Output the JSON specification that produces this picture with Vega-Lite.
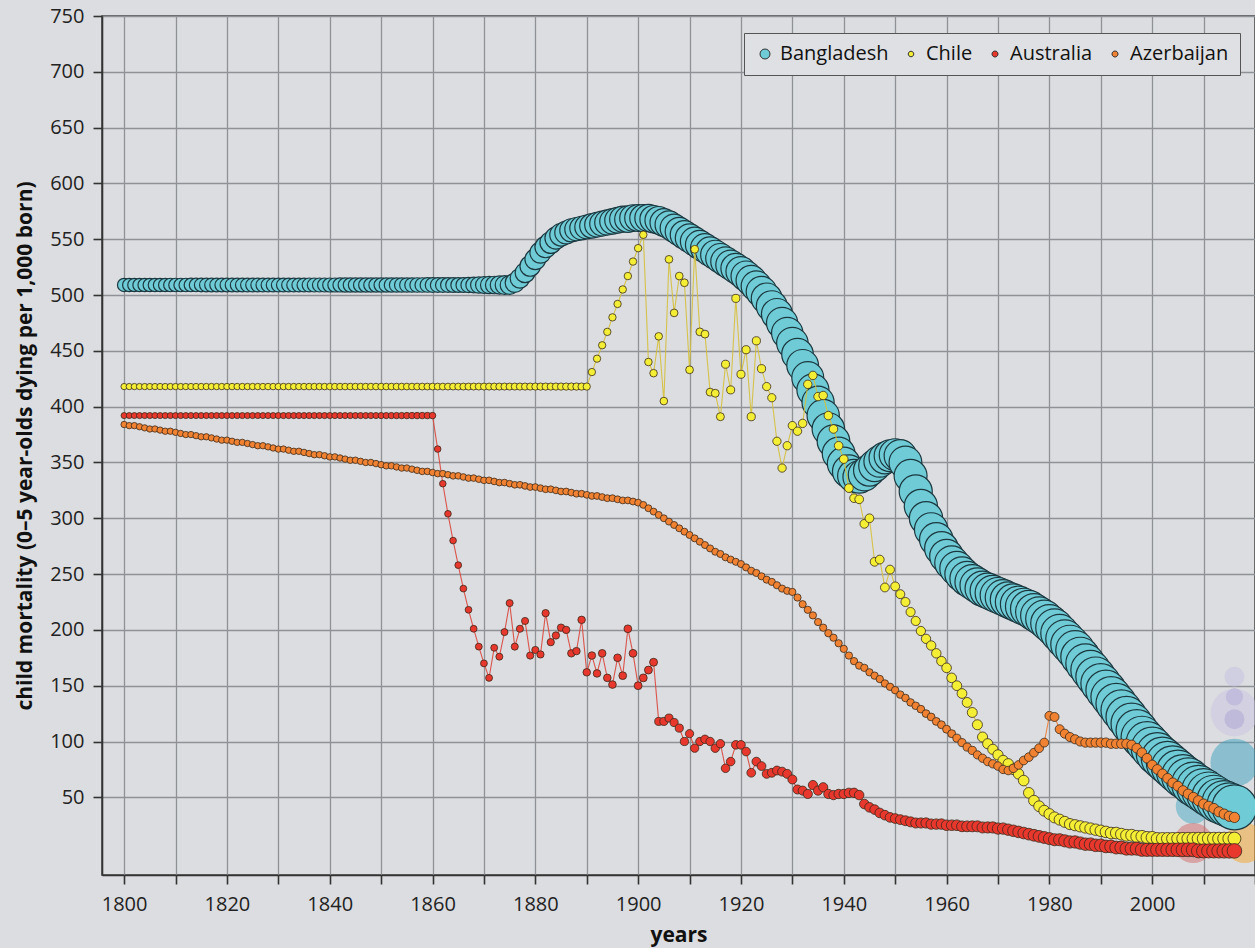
{
"$schema":"https://vega.github.io/schema/vega-lite/v6.json",
"width":1153,"height":859,
"autosize":{"type":"none"},
"padding":{"left":102,"top":16,"right":0,"bottom":73},
"background":"#dcdde0",
"config":{
 "view":{"stroke":"#3a3a3a","strokeWidth":1.5,"fill":"#dcdde0"},
 "axis":{"gridColor":"#8e9296","gridWidth":1.3,"gridOpacity":1,"domainColor":"#333","domainWidth":1.6,"tickColor":"#333","tickWidth":1.6,"tickSize":9,"labelFont":"Open Sans","labelFontSize":20,"labelColor":"#222","titleFont":"Open Sans","titleFontWeight":"bold","titleFontSize":21,"titleColor":"#111","labelFlush":false}
},
"datasets":{
"ghost":[
{"k":"g1","y":2016,"v":158,"p":16},
{"k":"g2","y":2016,"v":140,"p":12},
{"k":"g3","y":2016,"v":120,"p":16},
{"k":"g4","y":2016,"v":126,"p":90},
{"k":"g5","y":2016,"v":81,"p":92},
{"k":"g6","y":2008,"v":42,"p":49},
{"k":"g7","y":2008,"v":9,"p":64},
{"k":"g8","y":2018,"v":9,"p":64}
],
"main":[
{"c":"Bangladesh","y":1800,"v":509,"p":19.2},{"c":"Bangladesh","y":1801,"v":509,"p":19.3},{"c":"Bangladesh","y":1802,"v":509,"p":19.3},{"c":"Bangladesh","y":1803,"v":509,"p":19.4},{"c":"Bangladesh","y":1804,"v":509,"p":19.5},{"c":"Bangladesh","y":1805,"v":509,"p":19.5},{"c":"Bangladesh","y":1806,"v":509,"p":19.6},{"c":"Bangladesh","y":1807,"v":509,"p":19.7},{"c":"Bangladesh","y":1808,"v":509,"p":19.7},{"c":"Bangladesh","y":1809,"v":509,"p":19.8},
{"c":"Bangladesh","y":1810,"v":509,"p":19.9},{"c":"Bangladesh","y":1811,"v":509,"p":19.9},{"c":"Bangladesh","y":1812,"v":509,"p":20.0},{"c":"Bangladesh","y":1813,"v":509,"p":20.1},{"c":"Bangladesh","y":1814,"v":509,"p":20.1},{"c":"Bangladesh","y":1815,"v":509,"p":20.2},{"c":"Bangladesh","y":1816,"v":509,"p":20.3},{"c":"Bangladesh","y":1817,"v":509,"p":20.3},{"c":"Bangladesh","y":1818,"v":509,"p":20.4},{"c":"Bangladesh","y":1819,"v":509,"p":20.5},
{"c":"Bangladesh","y":1820,"v":509,"p":20.5},{"c":"Bangladesh","y":1821,"v":509,"p":20.6},{"c":"Bangladesh","y":1822,"v":509,"p":20.7},{"c":"Bangladesh","y":1823,"v":509,"p":20.7},{"c":"Bangladesh","y":1824,"v":509,"p":20.8},{"c":"Bangladesh","y":1825,"v":509,"p":20.9},{"c":"Bangladesh","y":1826,"v":509,"p":20.9},{"c":"Bangladesh","y":1827,"v":509,"p":21.0},{"c":"Bangladesh","y":1828,"v":509,"p":21.1},{"c":"Bangladesh","y":1829,"v":509,"p":21.1},
{"c":"Bangladesh","y":1830,"v":509,"p":21.2},{"c":"Bangladesh","y":1831,"v":509,"p":21.3},{"c":"Bangladesh","y":1832,"v":509,"p":21.3},{"c":"Bangladesh","y":1833,"v":509,"p":21.4},{"c":"Bangladesh","y":1834,"v":509,"p":21.5},{"c":"Bangladesh","y":1835,"v":509,"p":21.5},{"c":"Bangladesh","y":1836,"v":509,"p":21.6},{"c":"Bangladesh","y":1837,"v":509,"p":21.7},{"c":"Bangladesh","y":1838,"v":509,"p":21.7},{"c":"Bangladesh","y":1839,"v":509,"p":21.8},
{"c":"Bangladesh","y":1840,"v":509,"p":21.9},{"c":"Bangladesh","y":1841,"v":509,"p":21.9},{"c":"Bangladesh","y":1842,"v":509,"p":22.0},{"c":"Bangladesh","y":1843,"v":509,"p":22.1},{"c":"Bangladesh","y":1844,"v":509,"p":22.1},{"c":"Bangladesh","y":1845,"v":509,"p":22.2},{"c":"Bangladesh","y":1846,"v":509,"p":22.3},{"c":"Bangladesh","y":1847,"v":509,"p":22.3},{"c":"Bangladesh","y":1848,"v":509,"p":22.4},{"c":"Bangladesh","y":1849,"v":509,"p":22.5},
{"c":"Bangladesh","y":1850,"v":509,"p":22.5},{"c":"Bangladesh","y":1851,"v":509,"p":22.7},{"c":"Bangladesh","y":1852,"v":509,"p":22.8},{"c":"Bangladesh","y":1853,"v":509,"p":23.0},{"c":"Bangladesh","y":1854,"v":509,"p":23.1},{"c":"Bangladesh","y":1855,"v":509,"p":23.3},{"c":"Bangladesh","y":1856,"v":509,"p":23.4},{"c":"Bangladesh","y":1857,"v":509,"p":23.6},{"c":"Bangladesh","y":1858,"v":509,"p":23.7},{"c":"Bangladesh","y":1859,"v":509,"p":23.9},
{"c":"Bangladesh","y":1860,"v":509,"p":24.0},{"c":"Bangladesh","y":1861,"v":509,"p":24.2},{"c":"Bangladesh","y":1862,"v":509,"p":24.3},{"c":"Bangladesh","y":1863,"v":509,"p":24.5},{"c":"Bangladesh","y":1864,"v":509,"p":24.6},{"c":"Bangladesh","y":1865,"v":509,"p":24.8},{"c":"Bangladesh","y":1866,"v":509,"p":24.9},{"c":"Bangladesh","y":1867,"v":509,"p":25.1},{"c":"Bangladesh","y":1868,"v":509,"p":25.2},{"c":"Bangladesh","y":1869,"v":509,"p":25.4},
{"c":"Bangladesh","y":1870,"v":509,"p":25.5},{"c":"Bangladesh","y":1871,"v":509,"p":25.6},{"c":"Bangladesh","y":1872,"v":509,"p":25.7},{"c":"Bangladesh","y":1873,"v":509,"p":25.9},{"c":"Bangladesh","y":1874,"v":509,"p":26.0},{"c":"Bangladesh","y":1875,"v":509,"p":26.1},{"c":"Bangladesh","y":1876,"v":511,"p":26.2},{"c":"Bangladesh","y":1877,"v":515,"p":26.3},{"c":"Bangladesh","y":1878,"v":520,"p":26.4},{"c":"Bangladesh","y":1879,"v":526,"p":26.6},
{"c":"Bangladesh","y":1880,"v":532,"p":26.7},{"c":"Bangladesh","y":1881,"v":538,"p":26.8},{"c":"Bangladesh","y":1882,"v":543,"p":26.9},{"c":"Bangladesh","y":1883,"v":547,"p":27.0},{"c":"Bangladesh","y":1884,"v":551,"p":27.1},{"c":"Bangladesh","y":1885,"v":554,"p":27.3},{"c":"Bangladesh","y":1886,"v":556,"p":27.4},{"c":"Bangladesh","y":1887,"v":558,"p":27.5},{"c":"Bangladesh","y":1888,"v":559,"p":27.6},{"c":"Bangladesh","y":1889,"v":560,"p":27.7},
{"c":"Bangladesh","y":1890,"v":561,"p":27.8},{"c":"Bangladesh","y":1891,"v":562,"p":28.0},{"c":"Bangladesh","y":1892,"v":563,"p":28.1},{"c":"Bangladesh","y":1893,"v":564,"p":28.2},{"c":"Bangladesh","y":1894,"v":565,"p":28.3},{"c":"Bangladesh","y":1895,"v":566,"p":28.4},{"c":"Bangladesh","y":1896,"v":567,"p":28.5},{"c":"Bangladesh","y":1897,"v":568,"p":28.7},{"c":"Bangladesh","y":1898,"v":568,"p":28.8},{"c":"Bangladesh","y":1899,"v":569,"p":28.9},
{"c":"Bangladesh","y":1900,"v":569,"p":29.0},{"c":"Bangladesh","y":1901,"v":569,"p":29.3},{"c":"Bangladesh","y":1902,"v":569,"p":29.6},{"c":"Bangladesh","y":1903,"v":568,"p":29.8},{"c":"Bangladesh","y":1904,"v":567,"p":30.1},{"c":"Bangladesh","y":1905,"v":565,"p":30.4},{"c":"Bangladesh","y":1906,"v":563,"p":30.7},{"c":"Bangladesh","y":1907,"v":560,"p":30.9},{"c":"Bangladesh","y":1908,"v":557,"p":31.2},{"c":"Bangladesh","y":1909,"v":554,"p":31.5},
{"c":"Bangladesh","y":1910,"v":551,"p":31.8},{"c":"Bangladesh","y":1911,"v":548,"p":32.0},{"c":"Bangladesh","y":1912,"v":545,"p":32.3},{"c":"Bangladesh","y":1913,"v":542,"p":32.6},{"c":"Bangladesh","y":1914,"v":539,"p":32.9},{"c":"Bangladesh","y":1915,"v":536,"p":33.1},{"c":"Bangladesh","y":1916,"v":533,"p":33.4},{"c":"Bangladesh","y":1917,"v":530,"p":33.7},{"c":"Bangladesh","y":1918,"v":527,"p":34.0},{"c":"Bangladesh","y":1919,"v":524,"p":34.2},
{"c":"Bangladesh","y":1920,"v":521,"p":34.5},{"c":"Bangladesh","y":1921,"v":517,"p":34.8},{"c":"Bangladesh","y":1922,"v":513,"p":35.1},{"c":"Bangladesh","y":1923,"v":508,"p":35.3},{"c":"Bangladesh","y":1924,"v":503,"p":35.6},{"c":"Bangladesh","y":1925,"v":497,"p":35.9},{"c":"Bangladesh","y":1926,"v":490,"p":36.2},{"c":"Bangladesh","y":1927,"v":483,"p":36.4},{"c":"Bangladesh","y":1928,"v":475,"p":36.7},{"c":"Bangladesh","y":1929,"v":466,"p":37.0},
{"c":"Bangladesh","y":1930,"v":457,"p":37.3},{"c":"Bangladesh","y":1931,"v":447,"p":37.5},{"c":"Bangladesh","y":1932,"v":437,"p":37.8},{"c":"Bangladesh","y":1933,"v":426,"p":38.1},{"c":"Bangladesh","y":1934,"v":415,"p":38.4},{"c":"Bangladesh","y":1935,"v":404,"p":38.6},{"c":"Bangladesh","y":1936,"v":392,"p":38.9},{"c":"Bangladesh","y":1937,"v":380,"p":39.2},{"c":"Bangladesh","y":1938,"v":369,"p":39.5},{"c":"Bangladesh","y":1939,"v":358,"p":39.7},
{"c":"Bangladesh","y":1940,"v":349,"p":40.0},{"c":"Bangladesh","y":1941,"v":342,"p":40.1},{"c":"Bangladesh","y":1942,"v":338,"p":40.0},{"c":"Bangladesh","y":1943,"v":337,"p":39.2},{"c":"Bangladesh","y":1944,"v":339,"p":38.5},{"c":"Bangladesh","y":1945,"v":343,"p":38.0},{"c":"Bangladesh","y":1946,"v":347,"p":37.8},{"c":"Bangladesh","y":1947,"v":351,"p":37.7},{"c":"Bangladesh","y":1948,"v":354,"p":37.7},{"c":"Bangladesh","y":1949,"v":356,"p":37.8},
{"c":"Bangladesh","y":1950,"v":357,"p":38.0},{"c":"Bangladesh","y":1951,"v":356,"p":38.9},{"c":"Bangladesh","y":1952,"v":350,"p":39.8},{"c":"Bangladesh","y":1953,"v":338,"p":40.8},{"c":"Bangladesh","y":1954,"v":324,"p":41.7},{"c":"Bangladesh","y":1955,"v":311,"p":42.7},{"c":"Bangladesh","y":1956,"v":300,"p":43.7},{"c":"Bangladesh","y":1957,"v":290,"p":44.7},{"c":"Bangladesh","y":1958,"v":281,"p":45.8},{"c":"Bangladesh","y":1959,"v":273,"p":46.9},
{"c":"Bangladesh","y":1960,"v":266,"p":48.0},{"c":"Bangladesh","y":1961,"v":260,"p":49.5},{"c":"Bangladesh","y":1962,"v":255,"p":51.0},{"c":"Bangladesh","y":1963,"v":250,"p":52.6},{"c":"Bangladesh","y":1964,"v":246,"p":54.2},{"c":"Bangladesh","y":1965,"v":243,"p":55.9},{"c":"Bangladesh","y":1966,"v":240,"p":57.6},{"c":"Bangladesh","y":1967,"v":237,"p":59.4},{"c":"Bangladesh","y":1968,"v":235,"p":61.2},{"c":"Bangladesh","y":1969,"v":233,"p":63.1},
{"c":"Bangladesh","y":1970,"v":231,"p":65.0},{"c":"Bangladesh","y":1971,"v":229,"p":66.5},{"c":"Bangladesh","y":1972,"v":227,"p":68.0},{"c":"Bangladesh","y":1973,"v":225,"p":69.6},{"c":"Bangladesh","y":1974,"v":223,"p":71.2},{"c":"Bangladesh","y":1975,"v":221,"p":72.8},{"c":"Bangladesh","y":1976,"v":219,"p":74.5},{"c":"Bangladesh","y":1977,"v":216,"p":76.1},{"c":"Bangladesh","y":1978,"v":213,"p":77.7},{"c":"Bangladesh","y":1979,"v":210,"p":79.4},
{"c":"Bangladesh","y":1980,"v":206,"p":81.0},{"c":"Bangladesh","y":1981,"v":202,"p":83.5},{"c":"Bangladesh","y":1982,"v":197,"p":86.0},{"c":"Bangladesh","y":1983,"v":192,"p":88.6},{"c":"Bangladesh","y":1984,"v":187,"p":91.2},{"c":"Bangladesh","y":1985,"v":182,"p":93.8},{"c":"Bangladesh","y":1986,"v":176,"p":96.5},{"c":"Bangladesh","y":1987,"v":170,"p":99.2},{"c":"Bangladesh","y":1988,"v":164,"p":101.8},{"c":"Bangladesh","y":1989,"v":158,"p":104.4},
{"c":"Bangladesh","y":1990,"v":152,"p":107.0},{"c":"Bangladesh","y":1991,"v":146,"p":109.4},{"c":"Bangladesh","y":1992,"v":140,"p":111.8},{"c":"Bangladesh","y":1993,"v":134,"p":114.2},{"c":"Bangladesh","y":1994,"v":128,"p":116.6},{"c":"Bangladesh","y":1995,"v":122,"p":119.0},{"c":"Bangladesh","y":1996,"v":116,"p":121.4},{"c":"Bangladesh","y":1997,"v":110,"p":123.8},{"c":"Bangladesh","y":1998,"v":104,"p":126.2},{"c":"Bangladesh","y":1999,"v":99,"p":128.6},
{"c":"Bangladesh","y":2000,"v":94,"p":131.0},{"c":"Bangladesh","y":2001,"v":89,"p":133.0},{"c":"Bangladesh","y":2002,"v":85,"p":135.0},{"c":"Bangladesh","y":2003,"v":81,"p":137.0},{"c":"Bangladesh","y":2004,"v":77,"p":139.0},{"c":"Bangladesh","y":2005,"v":73,"p":141.0},{"c":"Bangladesh","y":2006,"v":69,"p":143.0},{"c":"Bangladesh","y":2007,"v":66,"p":145.0},{"c":"Bangladesh","y":2008,"v":62,"p":147.0},{"c":"Bangladesh","y":2009,"v":59,"p":149.0},
{"c":"Bangladesh","y":2010,"v":56,"p":151.0},{"c":"Bangladesh","y":2011,"v":53,"p":153.0},{"c":"Bangladesh","y":2012,"v":50,"p":155.0},{"c":"Bangladesh","y":2013,"v":47,"p":157.0},{"c":"Bangladesh","y":2014,"v":45,"p":159.0},{"c":"Bangladesh","y":2015,"v":43,"p":161.0},{"c":"Bangladesh","y":2016,"v":41,"p":163.0},

{"c":"Chile","y":1800,"v":418,"p":0.8},{"c":"Chile","y":1801,"v":418,"p":0.8},{"c":"Chile","y":1802,"v":418,"p":0.8},{"c":"Chile","y":1803,"v":418,"p":0.8},{"c":"Chile","y":1804,"v":418,"p":0.8},{"c":"Chile","y":1805,"v":418,"p":0.8},{"c":"Chile","y":1806,"v":418,"p":0.8},{"c":"Chile","y":1807,"v":418,"p":0.9},{"c":"Chile","y":1808,"v":418,"p":0.9},{"c":"Chile","y":1809,"v":418,"p":0.9},
{"c":"Chile","y":1810,"v":418,"p":0.9},{"c":"Chile","y":1811,"v":418,"p":0.9},{"c":"Chile","y":1812,"v":418,"p":0.9},{"c":"Chile","y":1813,"v":418,"p":0.9},{"c":"Chile","y":1814,"v":418,"p":1.0},{"c":"Chile","y":1815,"v":418,"p":1.0},{"c":"Chile","y":1816,"v":418,"p":1.0},{"c":"Chile","y":1817,"v":418,"p":1.0},{"c":"Chile","y":1818,"v":418,"p":1.0},{"c":"Chile","y":1819,"v":418,"p":1.0},
{"c":"Chile","y":1820,"v":418,"p":1.0},{"c":"Chile","y":1821,"v":418,"p":1.1},{"c":"Chile","y":1822,"v":418,"p":1.1},{"c":"Chile","y":1823,"v":418,"p":1.1},{"c":"Chile","y":1824,"v":418,"p":1.1},{"c":"Chile","y":1825,"v":418,"p":1.1},{"c":"Chile","y":1826,"v":418,"p":1.1},{"c":"Chile","y":1827,"v":418,"p":1.1},{"c":"Chile","y":1828,"v":418,"p":1.2},{"c":"Chile","y":1829,"v":418,"p":1.2},
{"c":"Chile","y":1830,"v":418,"p":1.2},{"c":"Chile","y":1831,"v":418,"p":1.2},{"c":"Chile","y":1832,"v":418,"p":1.2},{"c":"Chile","y":1833,"v":418,"p":1.2},{"c":"Chile","y":1834,"v":418,"p":1.2},{"c":"Chile","y":1835,"v":418,"p":1.3},{"c":"Chile","y":1836,"v":418,"p":1.3},{"c":"Chile","y":1837,"v":418,"p":1.3},{"c":"Chile","y":1838,"v":418,"p":1.3},{"c":"Chile","y":1839,"v":418,"p":1.3},
{"c":"Chile","y":1840,"v":418,"p":1.3},{"c":"Chile","y":1841,"v":418,"p":1.3},{"c":"Chile","y":1842,"v":418,"p":1.4},{"c":"Chile","y":1843,"v":418,"p":1.4},{"c":"Chile","y":1844,"v":418,"p":1.4},{"c":"Chile","y":1845,"v":418,"p":1.4},{"c":"Chile","y":1846,"v":418,"p":1.4},{"c":"Chile","y":1847,"v":418,"p":1.4},{"c":"Chile","y":1848,"v":418,"p":1.4},{"c":"Chile","y":1849,"v":418,"p":1.5},
{"c":"Chile","y":1850,"v":418,"p":1.5},{"c":"Chile","y":1851,"v":418,"p":1.5},{"c":"Chile","y":1852,"v":418,"p":1.5},{"c":"Chile","y":1853,"v":418,"p":1.5},{"c":"Chile","y":1854,"v":418,"p":1.6},{"c":"Chile","y":1855,"v":418,"p":1.6},{"c":"Chile","y":1856,"v":418,"p":1.6},{"c":"Chile","y":1857,"v":418,"p":1.7},{"c":"Chile","y":1858,"v":418,"p":1.7},{"c":"Chile","y":1859,"v":418,"p":1.7},
{"c":"Chile","y":1860,"v":418,"p":1.7},{"c":"Chile","y":1861,"v":418,"p":1.8},{"c":"Chile","y":1862,"v":418,"p":1.8},{"c":"Chile","y":1863,"v":418,"p":1.8},{"c":"Chile","y":1864,"v":418,"p":1.9},{"c":"Chile","y":1865,"v":418,"p":1.9},{"c":"Chile","y":1866,"v":418,"p":1.9},{"c":"Chile","y":1867,"v":418,"p":2.0},{"c":"Chile","y":1868,"v":418,"p":2.0},{"c":"Chile","y":1869,"v":418,"p":2.0},
{"c":"Chile","y":1870,"v":418,"p":2.0},{"c":"Chile","y":1871,"v":418,"p":2.1},{"c":"Chile","y":1872,"v":418,"p":2.1},{"c":"Chile","y":1873,"v":418,"p":2.1},{"c":"Chile","y":1874,"v":418,"p":2.2},{"c":"Chile","y":1875,"v":418,"p":2.2},{"c":"Chile","y":1876,"v":418,"p":2.2},{"c":"Chile","y":1877,"v":418,"p":2.3},{"c":"Chile","y":1878,"v":418,"p":2.3},{"c":"Chile","y":1879,"v":418,"p":2.3},
{"c":"Chile","y":1880,"v":418,"p":2.3},{"c":"Chile","y":1881,"v":418,"p":2.4},{"c":"Chile","y":1882,"v":418,"p":2.4},{"c":"Chile","y":1883,"v":418,"p":2.4},{"c":"Chile","y":1884,"v":418,"p":2.5},{"c":"Chile","y":1885,"v":418,"p":2.5},{"c":"Chile","y":1886,"v":418,"p":2.5},{"c":"Chile","y":1887,"v":418,"p":2.6},{"c":"Chile","y":1888,"v":418,"p":2.6},{"c":"Chile","y":1889,"v":418,"p":2.6},
{"c":"Chile","y":1890,"v":418,"p":2.6},{"c":"Chile","y":1891,"v":431,"p":2.7},{"c":"Chile","y":1892,"v":443,"p":2.7},{"c":"Chile","y":1893,"v":455,"p":2.7},{"c":"Chile","y":1894,"v":467,"p":2.8},{"c":"Chile","y":1895,"v":480,"p":2.8},{"c":"Chile","y":1896,"v":492,"p":2.8},{"c":"Chile","y":1897,"v":505,"p":2.9},{"c":"Chile","y":1898,"v":517,"p":2.9},{"c":"Chile","y":1899,"v":530,"p":2.9},
{"c":"Chile","y":1900,"v":542,"p":3.0},{"c":"Chile","y":1901,"v":554,"p":3.1},{"c":"Chile","y":1902,"v":440,"p":3.1},{"c":"Chile","y":1903,"v":430,"p":3.2},{"c":"Chile","y":1904,"v":463,"p":3.2},{"c":"Chile","y":1905,"v":405,"p":3.3},{"c":"Chile","y":1906,"v":532,"p":3.4},{"c":"Chile","y":1907,"v":484,"p":3.4},{"c":"Chile","y":1908,"v":517,"p":3.5},{"c":"Chile","y":1909,"v":511,"p":3.6},
{"c":"Chile","y":1910,"v":433,"p":3.6},{"c":"Chile","y":1911,"v":541,"p":3.7},{"c":"Chile","y":1912,"v":467,"p":3.7},{"c":"Chile","y":1913,"v":465,"p":3.8},{"c":"Chile","y":1914,"v":413,"p":3.9},{"c":"Chile","y":1915,"v":412,"p":3.9},{"c":"Chile","y":1916,"v":391,"p":4.0},{"c":"Chile","y":1917,"v":438,"p":4.1},{"c":"Chile","y":1918,"v":415,"p":4.1},{"c":"Chile","y":1919,"v":497,"p":4.2},
{"c":"Chile","y":1920,"v":429,"p":4.2},{"c":"Chile","y":1921,"v":451,"p":4.3},{"c":"Chile","y":1922,"v":391,"p":4.4},{"c":"Chile","y":1923,"v":459,"p":4.4},{"c":"Chile","y":1924,"v":434,"p":4.5},{"c":"Chile","y":1925,"v":418,"p":4.6},{"c":"Chile","y":1926,"v":408,"p":4.6},{"c":"Chile","y":1927,"v":369,"p":4.7},{"c":"Chile","y":1928,"v":345,"p":4.7},{"c":"Chile","y":1929,"v":365,"p":4.8},
{"c":"Chile","y":1930,"v":383,"p":4.9},{"c":"Chile","y":1931,"v":378,"p":4.9},{"c":"Chile","y":1932,"v":385,"p":5.0},{"c":"Chile","y":1933,"v":420,"p":5.0},{"c":"Chile","y":1934,"v":428,"p":5.1},{"c":"Chile","y":1935,"v":409,"p":5.2},{"c":"Chile","y":1936,"v":410,"p":5.2},{"c":"Chile","y":1937,"v":392,"p":5.3},{"c":"Chile","y":1938,"v":380,"p":5.4},{"c":"Chile","y":1939,"v":365,"p":5.4},
{"c":"Chile","y":1940,"v":353,"p":5.5},{"c":"Chile","y":1941,"v":327,"p":5.6},{"c":"Chile","y":1942,"v":318,"p":5.6},{"c":"Chile","y":1943,"v":317,"p":5.7},{"c":"Chile","y":1944,"v":295,"p":5.7},{"c":"Chile","y":1945,"v":300,"p":5.8},{"c":"Chile","y":1946,"v":261,"p":5.9},{"c":"Chile","y":1947,"v":263,"p":5.9},{"c":"Chile","y":1948,"v":238,"p":6.0},{"c":"Chile","y":1949,"v":254,"p":6.0},
{"c":"Chile","y":1950,"v":239,"p":6.1},{"c":"Chile","y":1951,"v":232,"p":6.3},{"c":"Chile","y":1952,"v":225,"p":6.5},{"c":"Chile","y":1953,"v":216,"p":6.6},{"c":"Chile","y":1954,"v":208,"p":6.8},{"c":"Chile","y":1955,"v":199,"p":7.0},{"c":"Chile","y":1956,"v":192,"p":7.2},{"c":"Chile","y":1957,"v":186,"p":7.4},{"c":"Chile","y":1958,"v":179,"p":7.5},{"c":"Chile","y":1959,"v":172,"p":7.7},
{"c":"Chile","y":1960,"v":166,"p":7.9},{"c":"Chile","y":1961,"v":157,"p":8.1},{"c":"Chile","y":1962,"v":150,"p":8.3},{"c":"Chile","y":1963,"v":143,"p":8.4},{"c":"Chile","y":1964,"v":135,"p":8.6},{"c":"Chile","y":1965,"v":126,"p":8.8},{"c":"Chile","y":1966,"v":115,"p":9.0},{"c":"Chile","y":1967,"v":104,"p":9.2},{"c":"Chile","y":1968,"v":98,"p":9.3},{"c":"Chile","y":1969,"v":93,"p":9.5},
{"c":"Chile","y":1970,"v":88,"p":9.7},{"c":"Chile","y":1971,"v":83,"p":9.9},{"c":"Chile","y":1972,"v":80,"p":10.1},{"c":"Chile","y":1973,"v":75,"p":10.2},{"c":"Chile","y":1974,"v":71,"p":10.4},{"c":"Chile","y":1975,"v":65,"p":10.6},{"c":"Chile","y":1976,"v":54,"p":10.8},{"c":"Chile","y":1977,"v":47,"p":11.0},{"c":"Chile","y":1978,"v":42,"p":11.1},{"c":"Chile","y":1979,"v":38,"p":11.3},
{"c":"Chile","y":1980,"v":35,"p":11.5},{"c":"Chile","y":1981,"v":32,"p":11.7},{"c":"Chile","y":1982,"v":30,"p":11.9},{"c":"Chile","y":1983,"v":28,"p":12.0},{"c":"Chile","y":1984,"v":26,"p":12.2},{"c":"Chile","y":1985,"v":25,"p":12.4},{"c":"Chile","y":1986,"v":24,"p":12.6},{"c":"Chile","y":1987,"v":23,"p":12.8},{"c":"Chile","y":1988,"v":22,"p":12.9},{"c":"Chile","y":1989,"v":21,"p":13.1},
{"c":"Chile","y":1990,"v":20,"p":13.3},{"c":"Chile","y":1991,"v":19,"p":13.5},{"c":"Chile","y":1992,"v":18,"p":13.7},{"c":"Chile","y":1993,"v":18,"p":13.8},{"c":"Chile","y":1994,"v":17,"p":14.0},{"c":"Chile","y":1995,"v":16,"p":14.2},{"c":"Chile","y":1996,"v":16,"p":14.4},{"c":"Chile","y":1997,"v":15,"p":14.6},{"c":"Chile","y":1998,"v":15,"p":14.7},{"c":"Chile","y":1999,"v":14,"p":14.9},
{"c":"Chile","y":2000,"v":14,"p":15.2},{"c":"Chile","y":2001,"v":13,"p":15.4},{"c":"Chile","y":2002,"v":13,"p":15.6},{"c":"Chile","y":2003,"v":13,"p":15.7},{"c":"Chile","y":2004,"v":13,"p":15.9},{"c":"Chile","y":2005,"v":13,"p":16.1},{"c":"Chile","y":2006,"v":13,"p":16.3},{"c":"Chile","y":2007,"v":13,"p":16.5},{"c":"Chile","y":2008,"v":13,"p":16.6},{"c":"Chile","y":2009,"v":13,"p":16.8},
{"c":"Chile","y":2010,"v":13,"p":17.0},{"c":"Chile","y":2011,"v":13,"p":17.2},{"c":"Chile","y":2012,"v":13,"p":17.4},{"c":"Chile","y":2013,"v":13,"p":17.5},{"c":"Chile","y":2014,"v":13,"p":17.7},{"c":"Chile","y":2015,"v":13,"p":17.9},{"c":"Chile","y":2016,"v":13,"p":18.0},

{"c":"Azerbaijan","y":1800,"v":384,"p":0.9},{"c":"Azerbaijan","y":1801,"v":383,"p":0.9},{"c":"Azerbaijan","y":1802,"v":383,"p":0.9},{"c":"Azerbaijan","y":1803,"v":382,"p":0.9},{"c":"Azerbaijan","y":1804,"v":381,"p":0.9},{"c":"Azerbaijan","y":1805,"v":380,"p":0.9},{"c":"Azerbaijan","y":1806,"v":380,"p":0.9},{"c":"Azerbaijan","y":1807,"v":379,"p":0.9},{"c":"Azerbaijan","y":1808,"v":378,"p":0.9},{"c":"Azerbaijan","y":1809,"v":378,"p":0.9},
{"c":"Azerbaijan","y":1810,"v":377,"p":0.9},{"c":"Azerbaijan","y":1811,"v":376,"p":0.9},{"c":"Azerbaijan","y":1812,"v":375,"p":0.9},{"c":"Azerbaijan","y":1813,"v":375,"p":0.9},{"c":"Azerbaijan","y":1814,"v":374,"p":0.9},{"c":"Azerbaijan","y":1815,"v":373,"p":0.9},{"c":"Azerbaijan","y":1816,"v":373,"p":0.9},{"c":"Azerbaijan","y":1817,"v":372,"p":1.0},{"c":"Azerbaijan","y":1818,"v":371,"p":1.0},{"c":"Azerbaijan","y":1819,"v":370,"p":1.0},
{"c":"Azerbaijan","y":1820,"v":370,"p":1.0},{"c":"Azerbaijan","y":1821,"v":369,"p":1.0},{"c":"Azerbaijan","y":1822,"v":368,"p":1.0},{"c":"Azerbaijan","y":1823,"v":368,"p":1.0},{"c":"Azerbaijan","y":1824,"v":367,"p":1.0},{"c":"Azerbaijan","y":1825,"v":366,"p":1.0},{"c":"Azerbaijan","y":1826,"v":365,"p":1.0},{"c":"Azerbaijan","y":1827,"v":365,"p":1.0},{"c":"Azerbaijan","y":1828,"v":364,"p":1.0},{"c":"Azerbaijan","y":1829,"v":363,"p":1.0},
{"c":"Azerbaijan","y":1830,"v":362,"p":1.0},{"c":"Azerbaijan","y":1831,"v":362,"p":1.0},{"c":"Azerbaijan","y":1832,"v":361,"p":1.0},{"c":"Azerbaijan","y":1833,"v":360,"p":1.0},{"c":"Azerbaijan","y":1834,"v":360,"p":1.1},{"c":"Azerbaijan","y":1835,"v":359,"p":1.1},{"c":"Azerbaijan","y":1836,"v":358,"p":1.1},{"c":"Azerbaijan","y":1837,"v":357,"p":1.1},{"c":"Azerbaijan","y":1838,"v":357,"p":1.1},{"c":"Azerbaijan","y":1839,"v":356,"p":1.1},
{"c":"Azerbaijan","y":1840,"v":355,"p":1.1},{"c":"Azerbaijan","y":1841,"v":355,"p":1.1},{"c":"Azerbaijan","y":1842,"v":354,"p":1.1},{"c":"Azerbaijan","y":1843,"v":353,"p":1.1},{"c":"Azerbaijan","y":1844,"v":352,"p":1.1},{"c":"Azerbaijan","y":1845,"v":352,"p":1.1},{"c":"Azerbaijan","y":1846,"v":351,"p":1.1},{"c":"Azerbaijan","y":1847,"v":350,"p":1.1},{"c":"Azerbaijan","y":1848,"v":350,"p":1.1},{"c":"Azerbaijan","y":1849,"v":349,"p":1.1},
{"c":"Azerbaijan","y":1850,"v":348,"p":1.2},{"c":"Azerbaijan","y":1851,"v":347,"p":1.2},{"c":"Azerbaijan","y":1852,"v":347,"p":1.2},{"c":"Azerbaijan","y":1853,"v":346,"p":1.2},{"c":"Azerbaijan","y":1854,"v":345,"p":1.2},{"c":"Azerbaijan","y":1855,"v":345,"p":1.2},{"c":"Azerbaijan","y":1856,"v":344,"p":1.2},{"c":"Azerbaijan","y":1857,"v":343,"p":1.3},{"c":"Azerbaijan","y":1858,"v":342,"p":1.3},{"c":"Azerbaijan","y":1859,"v":342,"p":1.3},
{"c":"Azerbaijan","y":1860,"v":341,"p":1.3},{"c":"Azerbaijan","y":1861,"v":340,"p":1.3},{"c":"Azerbaijan","y":1862,"v":340,"p":1.3},{"c":"Azerbaijan","y":1863,"v":339,"p":1.3},{"c":"Azerbaijan","y":1864,"v":338,"p":1.4},{"c":"Azerbaijan","y":1865,"v":338,"p":1.4},{"c":"Azerbaijan","y":1866,"v":337,"p":1.4},{"c":"Azerbaijan","y":1867,"v":336,"p":1.4},{"c":"Azerbaijan","y":1868,"v":336,"p":1.4},{"c":"Azerbaijan","y":1869,"v":335,"p":1.4},
{"c":"Azerbaijan","y":1870,"v":334,"p":1.4},{"c":"Azerbaijan","y":1871,"v":334,"p":1.5},{"c":"Azerbaijan","y":1872,"v":333,"p":1.5},{"c":"Azerbaijan","y":1873,"v":332,"p":1.5},{"c":"Azerbaijan","y":1874,"v":332,"p":1.5},{"c":"Azerbaijan","y":1875,"v":331,"p":1.5},{"c":"Azerbaijan","y":1876,"v":330,"p":1.5},{"c":"Azerbaijan","y":1877,"v":330,"p":1.5},{"c":"Azerbaijan","y":1878,"v":329,"p":1.6},{"c":"Azerbaijan","y":1879,"v":328,"p":1.6},
{"c":"Azerbaijan","y":1880,"v":328,"p":1.6},{"c":"Azerbaijan","y":1881,"v":327,"p":1.6},{"c":"Azerbaijan","y":1882,"v":326,"p":1.6},{"c":"Azerbaijan","y":1883,"v":326,"p":1.6},{"c":"Azerbaijan","y":1884,"v":325,"p":1.6},{"c":"Azerbaijan","y":1885,"v":324,"p":1.7},{"c":"Azerbaijan","y":1886,"v":324,"p":1.7},{"c":"Azerbaijan","y":1887,"v":323,"p":1.7},{"c":"Azerbaijan","y":1888,"v":322,"p":1.7},{"c":"Azerbaijan","y":1889,"v":322,"p":1.7},
{"c":"Azerbaijan","y":1890,"v":321,"p":1.7},{"c":"Azerbaijan","y":1891,"v":320,"p":1.7},{"c":"Azerbaijan","y":1892,"v":320,"p":1.8},{"c":"Azerbaijan","y":1893,"v":319,"p":1.8},{"c":"Azerbaijan","y":1894,"v":318,"p":1.8},{"c":"Azerbaijan","y":1895,"v":318,"p":1.8},{"c":"Azerbaijan","y":1896,"v":317,"p":1.8},{"c":"Azerbaijan","y":1897,"v":316,"p":1.8},{"c":"Azerbaijan","y":1898,"v":316,"p":1.8},{"c":"Azerbaijan","y":1899,"v":315,"p":1.9},
{"c":"Azerbaijan","y":1900,"v":314,"p":1.9},{"c":"Azerbaijan","y":1901,"v":312,"p":1.9},{"c":"Azerbaijan","y":1902,"v":309,"p":1.9},{"c":"Azerbaijan","y":1903,"v":306,"p":1.9},{"c":"Azerbaijan","y":1904,"v":303,"p":1.9},{"c":"Azerbaijan","y":1905,"v":300,"p":1.9},{"c":"Azerbaijan","y":1906,"v":297,"p":2.0},{"c":"Azerbaijan","y":1907,"v":294,"p":2.0},{"c":"Azerbaijan","y":1908,"v":291,"p":2.0},{"c":"Azerbaijan","y":1909,"v":288,"p":2.0},
{"c":"Azerbaijan","y":1910,"v":285,"p":2.0},{"c":"Azerbaijan","y":1911,"v":282,"p":2.1},{"c":"Azerbaijan","y":1912,"v":279,"p":2.1},{"c":"Azerbaijan","y":1913,"v":276,"p":2.1},{"c":"Azerbaijan","y":1914,"v":273,"p":2.1},{"c":"Azerbaijan","y":1915,"v":270,"p":2.1},{"c":"Azerbaijan","y":1916,"v":268,"p":2.2},{"c":"Azerbaijan","y":1917,"v":265,"p":2.2},{"c":"Azerbaijan","y":1918,"v":263,"p":2.2},{"c":"Azerbaijan","y":1919,"v":261,"p":2.2},
{"c":"Azerbaijan","y":1920,"v":259,"p":2.2},{"c":"Azerbaijan","y":1921,"v":256,"p":2.3},{"c":"Azerbaijan","y":1922,"v":253,"p":2.3},{"c":"Azerbaijan","y":1923,"v":251,"p":2.3},{"c":"Azerbaijan","y":1924,"v":248,"p":2.3},{"c":"Azerbaijan","y":1925,"v":245,"p":2.3},{"c":"Azerbaijan","y":1926,"v":243,"p":2.4},{"c":"Azerbaijan","y":1927,"v":240,"p":2.4},{"c":"Azerbaijan","y":1928,"v":237,"p":2.4},{"c":"Azerbaijan","y":1929,"v":235,"p":2.4},
{"c":"Azerbaijan","y":1930,"v":234,"p":2.4},{"c":"Azerbaijan","y":1931,"v":229,"p":2.5},{"c":"Azerbaijan","y":1932,"v":223,"p":2.5},{"c":"Azerbaijan","y":1933,"v":218,"p":2.5},{"c":"Azerbaijan","y":1934,"v":213,"p":2.5},{"c":"Azerbaijan","y":1935,"v":207,"p":2.5},{"c":"Azerbaijan","y":1936,"v":202,"p":2.6},{"c":"Azerbaijan","y":1937,"v":197,"p":2.6},{"c":"Azerbaijan","y":1938,"v":193,"p":2.6},{"c":"Azerbaijan","y":1939,"v":188,"p":2.6},
{"c":"Azerbaijan","y":1940,"v":183,"p":2.6},{"c":"Azerbaijan","y":1941,"v":177,"p":2.7},{"c":"Azerbaijan","y":1942,"v":172,"p":2.7},{"c":"Azerbaijan","y":1943,"v":168,"p":2.7},{"c":"Azerbaijan","y":1944,"v":166,"p":2.7},{"c":"Azerbaijan","y":1945,"v":162,"p":2.7},{"c":"Azerbaijan","y":1946,"v":159,"p":2.8},{"c":"Azerbaijan","y":1947,"v":156,"p":2.8},{"c":"Azerbaijan","y":1948,"v":152,"p":2.8},{"c":"Azerbaijan","y":1949,"v":149,"p":2.8},
{"c":"Azerbaijan","y":1950,"v":146,"p":2.9},{"c":"Azerbaijan","y":1951,"v":142,"p":3.0},{"c":"Azerbaijan","y":1952,"v":139,"p":3.1},{"c":"Azerbaijan","y":1953,"v":135,"p":3.2},{"c":"Azerbaijan","y":1954,"v":132,"p":3.3},{"c":"Azerbaijan","y":1955,"v":129,"p":3.4},{"c":"Azerbaijan","y":1956,"v":125,"p":3.5},{"c":"Azerbaijan","y":1957,"v":122,"p":3.6},{"c":"Azerbaijan","y":1958,"v":118,"p":3.7},{"c":"Azerbaijan","y":1959,"v":115,"p":3.8},
{"c":"Azerbaijan","y":1960,"v":111,"p":3.9},{"c":"Azerbaijan","y":1961,"v":107,"p":4.0},{"c":"Azerbaijan","y":1962,"v":103,"p":4.1},{"c":"Azerbaijan","y":1963,"v":99,"p":4.2},{"c":"Azerbaijan","y":1964,"v":95,"p":4.3},{"c":"Azerbaijan","y":1965,"v":92,"p":4.5},{"c":"Azerbaijan","y":1966,"v":88,"p":4.6},{"c":"Azerbaijan","y":1967,"v":85,"p":4.7},{"c":"Azerbaijan","y":1968,"v":82,"p":4.8},{"c":"Azerbaijan","y":1969,"v":80,"p":4.9},
{"c":"Azerbaijan","y":1970,"v":78,"p":5.1},{"c":"Azerbaijan","y":1971,"v":75,"p":5.2},{"c":"Azerbaijan","y":1972,"v":74,"p":5.3},{"c":"Azerbaijan","y":1973,"v":76,"p":5.4},{"c":"Azerbaijan","y":1974,"v":79,"p":5.5},{"c":"Azerbaijan","y":1975,"v":83,"p":5.6},{"c":"Azerbaijan","y":1976,"v":86,"p":5.7},{"c":"Azerbaijan","y":1977,"v":90,"p":5.8},{"c":"Azerbaijan","y":1978,"v":94,"p":5.9},{"c":"Azerbaijan","y":1979,"v":99,"p":6.1},
{"c":"Azerbaijan","y":1980,"v":123,"p":6.2},{"c":"Azerbaijan","y":1981,"v":122,"p":6.3},{"c":"Azerbaijan","y":1982,"v":111,"p":6.4},{"c":"Azerbaijan","y":1983,"v":107,"p":6.5},{"c":"Azerbaijan","y":1984,"v":104,"p":6.6},{"c":"Azerbaijan","y":1985,"v":102,"p":6.7},{"c":"Azerbaijan","y":1986,"v":100,"p":6.8},{"c":"Azerbaijan","y":1987,"v":99,"p":6.9},{"c":"Azerbaijan","y":1988,"v":99,"p":7.0},{"c":"Azerbaijan","y":1989,"v":99,"p":7.1},
{"c":"Azerbaijan","y":1990,"v":99,"p":7.2},{"c":"Azerbaijan","y":1991,"v":99,"p":7.3},{"c":"Azerbaijan","y":1992,"v":98,"p":7.4},{"c":"Azerbaijan","y":1993,"v":98,"p":7.5},{"c":"Azerbaijan","y":1994,"v":98,"p":7.6},{"c":"Azerbaijan","y":1995,"v":98,"p":7.7},{"c":"Azerbaijan","y":1996,"v":97,"p":7.7},{"c":"Azerbaijan","y":1997,"v":94,"p":7.8},{"c":"Azerbaijan","y":1998,"v":90,"p":7.9},{"c":"Azerbaijan","y":1999,"v":85,"p":7.9},
{"c":"Azerbaijan","y":2000,"v":79,"p":8.0},{"c":"Azerbaijan","y":2001,"v":75,"p":8.1},{"c":"Azerbaijan","y":2002,"v":71,"p":8.2},{"c":"Azerbaijan","y":2003,"v":67,"p":8.3},{"c":"Azerbaijan","y":2004,"v":63,"p":8.4},{"c":"Azerbaijan","y":2005,"v":60,"p":8.5},{"c":"Azerbaijan","y":2006,"v":56,"p":8.6},{"c":"Azerbaijan","y":2007,"v":53,"p":8.7},{"c":"Azerbaijan","y":2008,"v":50,"p":8.8},{"c":"Azerbaijan","y":2009,"v":47,"p":8.9},
{"c":"Azerbaijan","y":2010,"v":44,"p":9.1},{"c":"Azerbaijan","y":2011,"v":42,"p":9.2},{"c":"Azerbaijan","y":2012,"v":40,"p":9.3},{"c":"Azerbaijan","y":2013,"v":37,"p":9.4},{"c":"Azerbaijan","y":2014,"v":35,"p":9.5},{"c":"Azerbaijan","y":2015,"v":33,"p":9.6},{"c":"Azerbaijan","y":2016,"v":32,"p":9.8},

{"c":"Australia","y":1800,"v":392,"p":0.4},{"c":"Australia","y":1801,"v":392,"p":0.4},{"c":"Australia","y":1802,"v":392,"p":0.4},{"c":"Australia","y":1803,"v":392,"p":0.4},{"c":"Australia","y":1804,"v":392,"p":0.4},{"c":"Australia","y":1805,"v":392,"p":0.4},{"c":"Australia","y":1806,"v":392,"p":0.4},{"c":"Australia","y":1807,"v":392,"p":0.4},{"c":"Australia","y":1808,"v":392,"p":0.4},{"c":"Australia","y":1809,"v":392,"p":0.4},
{"c":"Australia","y":1810,"v":392,"p":0.4},{"c":"Australia","y":1811,"v":392,"p":0.4},{"c":"Australia","y":1812,"v":392,"p":0.4},{"c":"Australia","y":1813,"v":392,"p":0.4},{"c":"Australia","y":1814,"v":392,"p":0.4},{"c":"Australia","y":1815,"v":392,"p":0.4},{"c":"Australia","y":1816,"v":392,"p":0.4},{"c":"Australia","y":1817,"v":392,"p":0.4},{"c":"Australia","y":1818,"v":392,"p":0.4},{"c":"Australia","y":1819,"v":392,"p":0.4},
{"c":"Australia","y":1820,"v":392,"p":0.4},{"c":"Australia","y":1821,"v":392,"p":0.4},{"c":"Australia","y":1822,"v":392,"p":0.4},{"c":"Australia","y":1823,"v":392,"p":0.4},{"c":"Australia","y":1824,"v":392,"p":0.4},{"c":"Australia","y":1825,"v":392,"p":0.4},{"c":"Australia","y":1826,"v":392,"p":0.4},{"c":"Australia","y":1827,"v":392,"p":0.4},{"c":"Australia","y":1828,"v":392,"p":0.4},{"c":"Australia","y":1829,"v":392,"p":0.4},
{"c":"Australia","y":1830,"v":392,"p":0.5},{"c":"Australia","y":1831,"v":392,"p":0.5},{"c":"Australia","y":1832,"v":392,"p":0.5},{"c":"Australia","y":1833,"v":392,"p":0.5},{"c":"Australia","y":1834,"v":392,"p":0.5},{"c":"Australia","y":1835,"v":392,"p":0.5},{"c":"Australia","y":1836,"v":392,"p":0.5},{"c":"Australia","y":1837,"v":392,"p":0.5},{"c":"Australia","y":1838,"v":392,"p":0.5},{"c":"Australia","y":1839,"v":392,"p":0.5},
{"c":"Australia","y":1840,"v":392,"p":0.5},{"c":"Australia","y":1841,"v":392,"p":0.5},{"c":"Australia","y":1842,"v":392,"p":0.5},{"c":"Australia","y":1843,"v":392,"p":0.5},{"c":"Australia","y":1844,"v":392,"p":0.5},{"c":"Australia","y":1845,"v":392,"p":0.5},{"c":"Australia","y":1846,"v":392,"p":0.5},{"c":"Australia","y":1847,"v":392,"p":0.5},{"c":"Australia","y":1848,"v":392,"p":0.5},{"c":"Australia","y":1849,"v":392,"p":0.5},
{"c":"Australia","y":1850,"v":392,"p":0.6},{"c":"Australia","y":1851,"v":392,"p":0.7},{"c":"Australia","y":1852,"v":392,"p":0.8},{"c":"Australia","y":1853,"v":392,"p":0.9},{"c":"Australia","y":1854,"v":392,"p":1.0},{"c":"Australia","y":1855,"v":392,"p":1.1},{"c":"Australia","y":1856,"v":392,"p":1.1},{"c":"Australia","y":1857,"v":392,"p":1.2},{"c":"Australia","y":1858,"v":392,"p":1.2},{"c":"Australia","y":1859,"v":392,"p":1.2},
{"c":"Australia","y":1860,"v":392,"p":1.2},{"c":"Australia","y":1861,"v":362,"p":1.3},{"c":"Australia","y":1862,"v":331,"p":1.3},{"c":"Australia","y":1863,"v":304,"p":1.4},{"c":"Australia","y":1864,"v":280,"p":1.4},{"c":"Australia","y":1865,"v":258,"p":1.5},{"c":"Australia","y":1866,"v":237,"p":1.6},{"c":"Australia","y":1867,"v":218,"p":1.6},{"c":"Australia","y":1868,"v":201,"p":1.7},{"c":"Australia","y":1869,"v":185,"p":1.8},
{"c":"Australia","y":1870,"v":170,"p":1.8},{"c":"Australia","y":1871,"v":157,"p":1.9},{"c":"Australia","y":1872,"v":184,"p":1.9},{"c":"Australia","y":1873,"v":176,"p":2.0},{"c":"Australia","y":1874,"v":198,"p":2.1},{"c":"Australia","y":1875,"v":224,"p":2.1},{"c":"Australia","y":1876,"v":185,"p":2.2},{"c":"Australia","y":1877,"v":201,"p":2.3},{"c":"Australia","y":1878,"v":208,"p":2.3},{"c":"Australia","y":1879,"v":177,"p":2.4},
{"c":"Australia","y":1880,"v":182,"p":2.4},{"c":"Australia","y":1881,"v":178,"p":2.5},{"c":"Australia","y":1882,"v":215,"p":2.6},{"c":"Australia","y":1883,"v":189,"p":2.6},{"c":"Australia","y":1884,"v":195,"p":2.7},{"c":"Australia","y":1885,"v":202,"p":2.8},{"c":"Australia","y":1886,"v":200,"p":2.8},{"c":"Australia","y":1887,"v":179,"p":2.9},{"c":"Australia","y":1888,"v":181,"p":2.9},{"c":"Australia","y":1889,"v":209,"p":3.0},
{"c":"Australia","y":1890,"v":162,"p":3.1},{"c":"Australia","y":1891,"v":177,"p":3.1},{"c":"Australia","y":1892,"v":161,"p":3.2},{"c":"Australia","y":1893,"v":179,"p":3.3},{"c":"Australia","y":1894,"v":157,"p":3.3},{"c":"Australia","y":1895,"v":151,"p":3.4},{"c":"Australia","y":1896,"v":175,"p":3.4},{"c":"Australia","y":1897,"v":159,"p":3.5},{"c":"Australia","y":1898,"v":201,"p":3.6},{"c":"Australia","y":1899,"v":179,"p":3.6},
{"c":"Australia","y":1900,"v":150,"p":3.7},{"c":"Australia","y":1901,"v":157,"p":3.8},{"c":"Australia","y":1902,"v":164,"p":3.9},{"c":"Australia","y":1903,"v":171,"p":4.0},{"c":"Australia","y":1904,"v":118,"p":4.1},{"c":"Australia","y":1905,"v":118,"p":4.2},{"c":"Australia","y":1906,"v":121,"p":4.2},{"c":"Australia","y":1907,"v":117,"p":4.3},{"c":"Australia","y":1908,"v":112,"p":4.4},{"c":"Australia","y":1909,"v":100,"p":4.5},
{"c":"Australia","y":1910,"v":107,"p":4.6},{"c":"Australia","y":1911,"v":94,"p":4.7},{"c":"Australia","y":1912,"v":100,"p":4.8},{"c":"Australia","y":1913,"v":102,"p":4.9},{"c":"Australia","y":1914,"v":100,"p":5.0},{"c":"Australia","y":1915,"v":94,"p":5.1},{"c":"Australia","y":1916,"v":98,"p":5.1},{"c":"Australia","y":1917,"v":76,"p":5.2},{"c":"Australia","y":1918,"v":82,"p":5.3},{"c":"Australia","y":1919,"v":97,"p":5.4},
{"c":"Australia","y":1920,"v":97,"p":5.5},{"c":"Australia","y":1921,"v":91,"p":5.6},{"c":"Australia","y":1922,"v":72,"p":5.7},{"c":"Australia","y":1923,"v":82,"p":5.8},{"c":"Australia","y":1924,"v":78,"p":5.9},{"c":"Australia","y":1925,"v":71,"p":6.0},{"c":"Australia","y":1926,"v":72,"p":6.0},{"c":"Australia","y":1927,"v":74,"p":6.1},{"c":"Australia","y":1928,"v":73,"p":6.2},{"c":"Australia","y":1929,"v":71,"p":6.3},
{"c":"Australia","y":1930,"v":66,"p":6.4},{"c":"Australia","y":1931,"v":57,"p":6.5},{"c":"Australia","y":1932,"v":56,"p":6.6},{"c":"Australia","y":1933,"v":53,"p":6.7},{"c":"Australia","y":1934,"v":61,"p":6.8},{"c":"Australia","y":1935,"v":56,"p":6.9},{"c":"Australia","y":1936,"v":59,"p":6.9},{"c":"Australia","y":1937,"v":53,"p":7.0},{"c":"Australia","y":1938,"v":52,"p":7.1},{"c":"Australia","y":1939,"v":53,"p":7.2},
{"c":"Australia","y":1940,"v":53,"p":7.3},{"c":"Australia","y":1941,"v":54,"p":7.4},{"c":"Australia","y":1942,"v":54,"p":7.5},{"c":"Australia","y":1943,"v":52,"p":7.6},{"c":"Australia","y":1944,"v":44,"p":7.7},{"c":"Australia","y":1945,"v":41,"p":7.8},{"c":"Australia","y":1946,"v":39,"p":7.8},{"c":"Australia","y":1947,"v":36,"p":7.9},{"c":"Australia","y":1948,"v":34,"p":8.0},{"c":"Australia","y":1949,"v":32,"p":8.1},
{"c":"Australia","y":1950,"v":31,"p":8.2},{"c":"Australia","y":1951,"v":30,"p":8.4},{"c":"Australia","y":1952,"v":29,"p":8.6},{"c":"Australia","y":1953,"v":28,"p":8.9},{"c":"Australia","y":1954,"v":27,"p":9.1},{"c":"Australia","y":1955,"v":27,"p":9.3},{"c":"Australia","y":1956,"v":27,"p":9.5},{"c":"Australia","y":1957,"v":26,"p":9.7},{"c":"Australia","y":1958,"v":26,"p":10.0},{"c":"Australia","y":1959,"v":26,"p":10.2},
{"c":"Australia","y":1960,"v":25,"p":10.4},{"c":"Australia","y":1961,"v":25,"p":10.6},{"c":"Australia","y":1962,"v":25,"p":10.8},{"c":"Australia","y":1963,"v":24,"p":11.1},{"c":"Australia","y":1964,"v":24,"p":11.3},{"c":"Australia","y":1965,"v":24,"p":11.5},{"c":"Australia","y":1966,"v":24,"p":11.7},{"c":"Australia","y":1967,"v":23,"p":11.9},{"c":"Australia","y":1968,"v":23,"p":12.2},{"c":"Australia","y":1969,"v":23,"p":12.4},
{"c":"Australia","y":1970,"v":22,"p":12.6},{"c":"Australia","y":1971,"v":22,"p":12.8},{"c":"Australia","y":1972,"v":21,"p":13.0},{"c":"Australia","y":1973,"v":20,"p":13.3},{"c":"Australia","y":1974,"v":19,"p":13.5},{"c":"Australia","y":1975,"v":18,"p":13.7},{"c":"Australia","y":1976,"v":17,"p":13.9},{"c":"Australia","y":1977,"v":16,"p":14.1},{"c":"Australia","y":1978,"v":15,"p":14.4},{"c":"Australia","y":1979,"v":14,"p":14.6},
{"c":"Australia","y":1980,"v":13,"p":14.8},{"c":"Australia","y":1981,"v":12,"p":15.0},{"c":"Australia","y":1982,"v":12,"p":15.2},{"c":"Australia","y":1983,"v":11,"p":15.5},{"c":"Australia","y":1984,"v":10,"p":15.7},{"c":"Australia","y":1985,"v":10,"p":15.9},{"c":"Australia","y":1986,"v":9,"p":16.1},{"c":"Australia","y":1987,"v":8,"p":16.3},{"c":"Australia","y":1988,"v":8,"p":16.6},{"c":"Australia","y":1989,"v":7,"p":16.8},
{"c":"Australia","y":1990,"v":7,"p":17.0},{"c":"Australia","y":1991,"v":6,"p":17.2},{"c":"Australia","y":1992,"v":6,"p":17.4},{"c":"Australia","y":1993,"v":5,"p":17.7},{"c":"Australia","y":1994,"v":5,"p":17.9},{"c":"Australia","y":1995,"v":4,"p":18.1},{"c":"Australia","y":1996,"v":4,"p":18.3},{"c":"Australia","y":1997,"v":4,"p":18.5},{"c":"Australia","y":1998,"v":3,"p":18.8},{"c":"Australia","y":1999,"v":3,"p":19.0},
{"c":"Australia","y":2000,"v":3,"p":19.2},{"c":"Australia","y":2001,"v":3,"p":19.5},{"c":"Australia","y":2002,"v":3,"p":19.8},{"c":"Australia","y":2003,"v":3,"p":20.1},{"c":"Australia","y":2004,"v":3,"p":20.4},{"c":"Australia","y":2005,"v":3,"p":20.7},{"c":"Australia","y":2006,"v":3,"p":21.0},{"c":"Australia","y":2007,"v":3,"p":21.3},{"c":"Australia","y":2008,"v":3,"p":21.6},{"c":"Australia","y":2009,"v":2,"p":21.9},
{"c":"Australia","y":2010,"v":2,"p":22.2},{"c":"Australia","y":2011,"v":2,"p":22.5},{"c":"Australia","y":2012,"v":2,"p":22.8},{"c":"Australia","y":2013,"v":2,"p":23.1},{"c":"Australia","y":2014,"v":2,"p":23.5},{"c":"Australia","y":2015,"v":2,"p":23.8},{"c":"Australia","y":2016,"v":2,"p":24.2}
]},
"encoding":{
 "x":{"field":"y","type":"quantitative","scale":{"domain":[1795.7,2020],"nice":false,"zero":false},
  "axis":{"title":"years","values":[1800,1810,1820,1830,1840,1850,1860,1870,1880,1890,1900,1910,1920,1930,1940,1950,1960,1970,1980,1990,2000,2010,2020],"format":"d","labelExpr":"datum.value % 20 === 0 && datum.value < 2020 ? datum.label : ''","labelPadding":10,"titlePadding":10}},
 "y":{"field":"v","type":"quantitative","scale":{"domain":[-19.6,750],"nice":false,"zero":false},
  "axis":{"title":"child mortality (0–5 year-olds dying per 1,000 born)","values":[50,100,150,200,250,300,350,400,450,500,550,600,650,700,750],"labelPadding":9,"titlePadding":14}}
},
"layer":[
 {"data":{"name":"ghost"},
  "mark":{"type":"circle","opacity":0.5,"strokeWidth":0},
  "encoding":{
   "fill":{"field":"k","type":"nominal","legend":null,"scale":{"domain":["g1","g2","g3","g4","g5","g6","g7","g8"],"range":["#c4bfe2","#9a91c9","#8c83c0","#c9c4e4","#3aa2c0","#46a9c4","#d46a6a","#f5a52a"]}},
   "size":{"field":"p","type":"quantitative","legend":null,"scale":{"domain":[0,100],"range":[0,2500]}}
  }},
 {"data":{"name":"main"},
  "transform":[{"filter":"datum.c === 'Bangladesh'"}],
  "mark":{"type":"point","filled":true,"opacity":1,"stroke":"#1b3840","strokeWidth":1.2},
  "encoding":{
   "color":{"field":"c","type":"nominal","scale":{"domain":["Bangladesh","Chile","Australia","Azerbaijan"],"range":["#6fcbd5","#f4ee35","#e8372d","#f08232"]},
    "legend":{"orient":"none","legendX":642,"legendY":17,"direction":"horizontal","title":null,"padding":11,"strokeColor":"#555","fillColor":"#dfe0e3","labelFont":"Open Sans","labelFontSize":20,"labelColor":"#111","symbolStrokeColor":"#333","symbolStrokeWidth":1,"symbolSize":100,"labelOffset":5,"columnPadding":12}},
   "shape":{"field":"c","type":"nominal","scale":{"domain":["Bangladesh","Chile","Australia","Azerbaijan"],"range":["M -1 0 A 1 1 0 1 0 1 0 A 1 1 0 1 0 -1 0 Z","M -0.55 0 A 0.55 0.55 0 1 0 0.55 0 A 0.55 0.55 0 1 0 -0.55 0 Z","M -0.6 0 A 0.6 0.6 0 1 0 0.6 0 A 0.6 0.6 0 1 0 -0.6 0 Z","M -0.6 0 A 0.6 0.6 0 1 0 0.6 0 A 0.6 0.6 0 1 0 -0.6 0 Z"]},
    "legend":{"orient":"none","legendX":642,"legendY":17,"direction":"horizontal","title":null,"padding":11,"strokeColor":"#555","fillColor":"#dfe0e3","labelFont":"Open Sans","labelFontSize":20,"labelColor":"#111","symbolStrokeColor":"#333","symbolStrokeWidth":1,"symbolSize":150,"labelOffset":5,"columnPadding":12}},
   "size":{"field":"p","type":"quantitative","legend":null,"scale":{"domain":[0.3,25,29,40,165],"range":[36,220,720,1080,2025]}}
  }},
 {"data":{"name":"main"},
  "transform":[{"filter":"datum.c !== 'Bangladesh'"}],
  "mark":{"type":"line","strokeWidth":1.1,"opacity":0.9},
  "encoding":{
   "stroke":{"field":"c","type":"nominal","legend":null,"scale":{"domain":["Chile","Australia","Azerbaijan"],"range":["#d4c03a","#d9463c","#ec7f36"]}}
  }},
 {"data":{"name":"main"},
  "transform":[{"filter":"datum.c !== 'Bangladesh'"}],
  "mark":{"type":"circle","opacity":1,"stroke":"#3a2a1a","strokeWidth":0.8},
  "encoding":{
   "color":{"field":"c","type":"nominal"},
   "size":{"field":"p","type":"quantitative","legend":null,"scale":{"domain":[0.3,25,29,40,165],"range":[36,220,720,1080,2025]}}
  }}
],
"resolve":{"scale":{"size":"independent"}}
}
